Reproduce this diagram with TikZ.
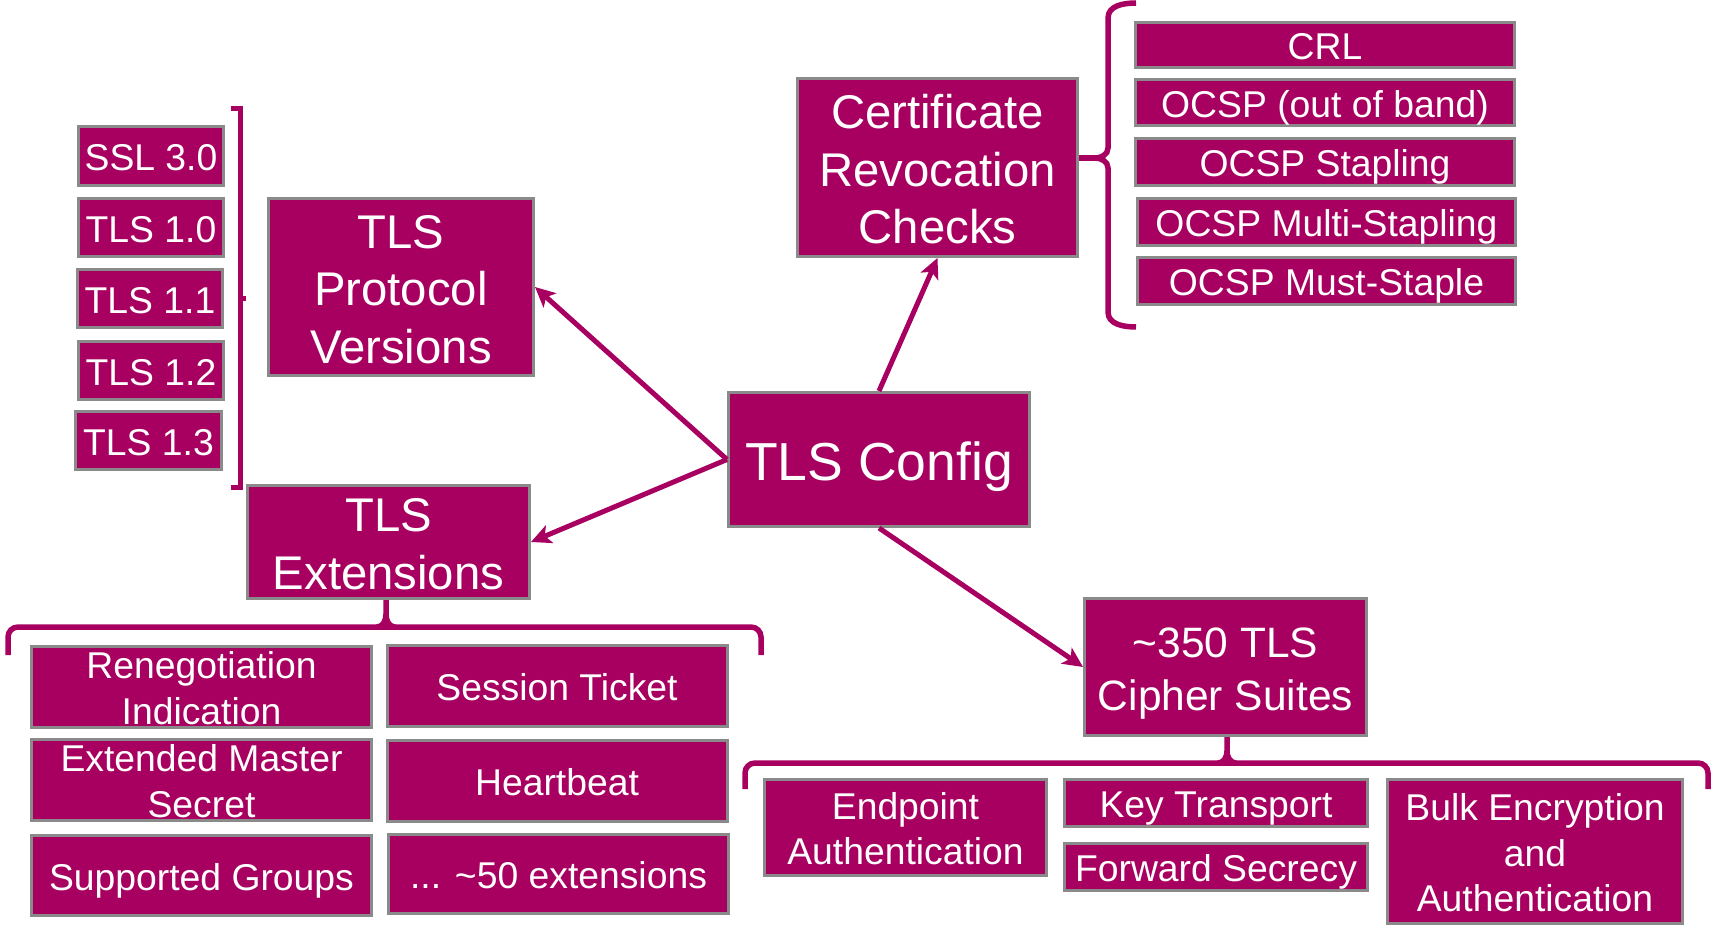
\documentclass[tikz,border=0pt]{standalone}
\usepackage{fontspec}
\setmainfont{Liberation Sans}
\usetikzlibrary{arrows.meta}
\definecolor{tlsmag}{RGB}{168,0,96}
\definecolor{bordergray}{RGB}{138,138,138}
\newcommand{\tlsstrut}{\vrule width 0pt height 1.03em depth 0.24em\relax}
\tikzset{
  box/.style={draw=bordergray, line width=3pt, fill=tlsmag, text=white, inner xsep=0pt, inner ysep=-8pt, align=center,
    execute at begin node=\tlsstrut, execute at end node=\tlsstrut},
  small/.style={font=\fontsize{37.3}{45.5}\selectfont},
  medium/.style={font=\fontsize{47.3}{57.5}\selectfont},
  ciph/.style={font=\fontsize{42.5}{53}\selectfont},
  big/.style={font=\fontsize{53.5}{60}\selectfont},
  conn/.style={draw=tlsmag, line width=5pt, -{Stealth[length=20pt,width=19pt,inset=5pt]}},
  brk/.style={draw=tlsmag, line width=5.5pt}
}
\begin{document}
\begin{tikzpicture}[x=1pt,y=-1pt]
\useasboundingbox (0,0) rectangle (1716,928);
% protocol versions
\node[box,small,minimum width=145,minimum height=59] (ssl) at (151,156) {SSL 3.0};
\node[box,small,minimum width=145,minimum height=58] (tls10) at (151,227.5) {TLS 1.0};
\node[box,small,minimum width=145,minimum height=58] (tls11) at (150,298.5) {TLS 1.1};
\node[box,small,minimum width=145,minimum height=58] (tls12) at (151,370.5) {TLS 1.2};
\node[box,small,minimum width=146,minimum height=58] (tls13) at (148.5,440.5) {TLS 1.3};
\node[box,medium,minimum width=265,minimum height=177] (proto) at (401,287) {\tlsstrut TLS\\Protocol\\Versions};
% extensions
\node[box,medium,minimum width=282,minimum height=113] (ext) at (388.5,542) {\tlsstrut TLS\\Extensions};
\node[box,small,minimum width=340,minimum height=81] (reneg) at (201.5,687) {\tlsstrut Renegotiation\\Indication};
\node[box,small,minimum width=340,minimum height=81] (session) at (557,686) {Session Ticket};
\node[box,small,minimum width=340,minimum height=81] (extended) at (201.5,780) {\tlsstrut Extended Master\\Secret};
\node[box,small,minimum width=340,minimum height=81] (heartbeat) at (557,781) {Heartbeat};
\node[box,small,minimum width=340,minimum height=80] (supported) at (201.5,875.5) {Supported Groups};
\node[box,small,minimum width=340,minimum height=79] (fifty) at (558.5,874) {... \textasciitilde50 extensions};
% config
\node[box,big,minimum width=301,minimum height=134] (config) at (879,459.5) {TLS Config};
% certificate revocation
\node[box,medium,minimum width=280,minimum height=178] (cert) at (937.5,167.5) {\tlsstrut Certificate\\Revocation\\Checks};
\node[box,small,minimum width=379,minimum height=45] (crl) at (1325,45) {CRL};
\node[box,small,minimum width=379,minimum height=46] (oob) at (1325,102.5) {OCSP (out of band)};
\node[box,small,minimum width=379,minimum height=47] (stap) at (1325,162) {OCSP Stapling};
\node[box,small,minimum width=378,minimum height=47] (multi) at (1326.5,222) {OCSP Multi-Stapling};
\node[box,small,minimum width=378,minimum height=47] (must) at (1326.5,281) {OCSP Must-Staple};
% cipher suites
\node[box,ciph,minimum width=282,minimum height=137] (cipher) at (1225.5,667) {\tlsstrut\textasciitilde350 TLS\\Cipher Suites};
\node[box,small,minimum width=282,minimum height=96] (endpoint) at (905.5,827.5) {\tlsstrut Endpoint\\Authentication};
\node[box,small,minimum width=303,minimum height=47] (key) at (1216,803) {Key Transport};
\node[box,small,minimum width=303,minimum height=47] (forward) at (1216,867) {Forward Secrecy};
\node[box,small,minimum width=295,minimum height=144] (bulk) at (1535,851.5) {\tlsstrut Bulk Encryption\\and\\Authentication};
% connectors
\draw[conn] (config.west) -- (proto.east);
\draw[conn] (config.west) -- (ext.east);
\draw[conn] (config.north) -- (cert.south);
\draw[conn] (config.south) -- (cipher.west);
% bracket for protocol versions
\coordinate (pb) at (240,298.5);
\draw[brk, line width=5pt] (231,109) -- (240,109) -- (240,487) -- (231,487);
\draw[brk, line width=5pt] (pb) -- (246,298.5);
% brace for certificate revocation
\coordinate (cb) at (1095,158);
\draw[brk] (1136,3) to[out=180,in=90] (1108,18) -- (1108,148) to[out=-90,in=0] (cb);
\draw[brk] (1136,327) to[out=180,in=-90] (1108,312) -- (1108,168) to[out=90,in=0] (cb);
\draw[brk] (cb) -- (cert.east |- cb);
% brace for extensions
\coordinate (eb) at (386,627);
\draw[brk, rounded corners=10pt] (8,655) -- (8,627) -- (761,627) -- (761,655);
\draw[brk] (ext.south -| eb) -- (386,614) to[out=-90,in=0] (377,627);
\draw[brk] (386,614) to[out=-90,in=180] (395,627);
% brace for cipher suites
\coordinate (sb) at (1227,763);
\draw[brk, rounded corners=10pt] (745,789) -- (745,763) -- (1708,763) -- (1708,789);
\draw[brk] (cipher.south -| sb) -- (1227,751) to[out=-90,in=0] (1218,763);
\draw[brk] (1227,751) to[out=-90,in=180] (1236,763);
\end{tikzpicture}
\end{document}
